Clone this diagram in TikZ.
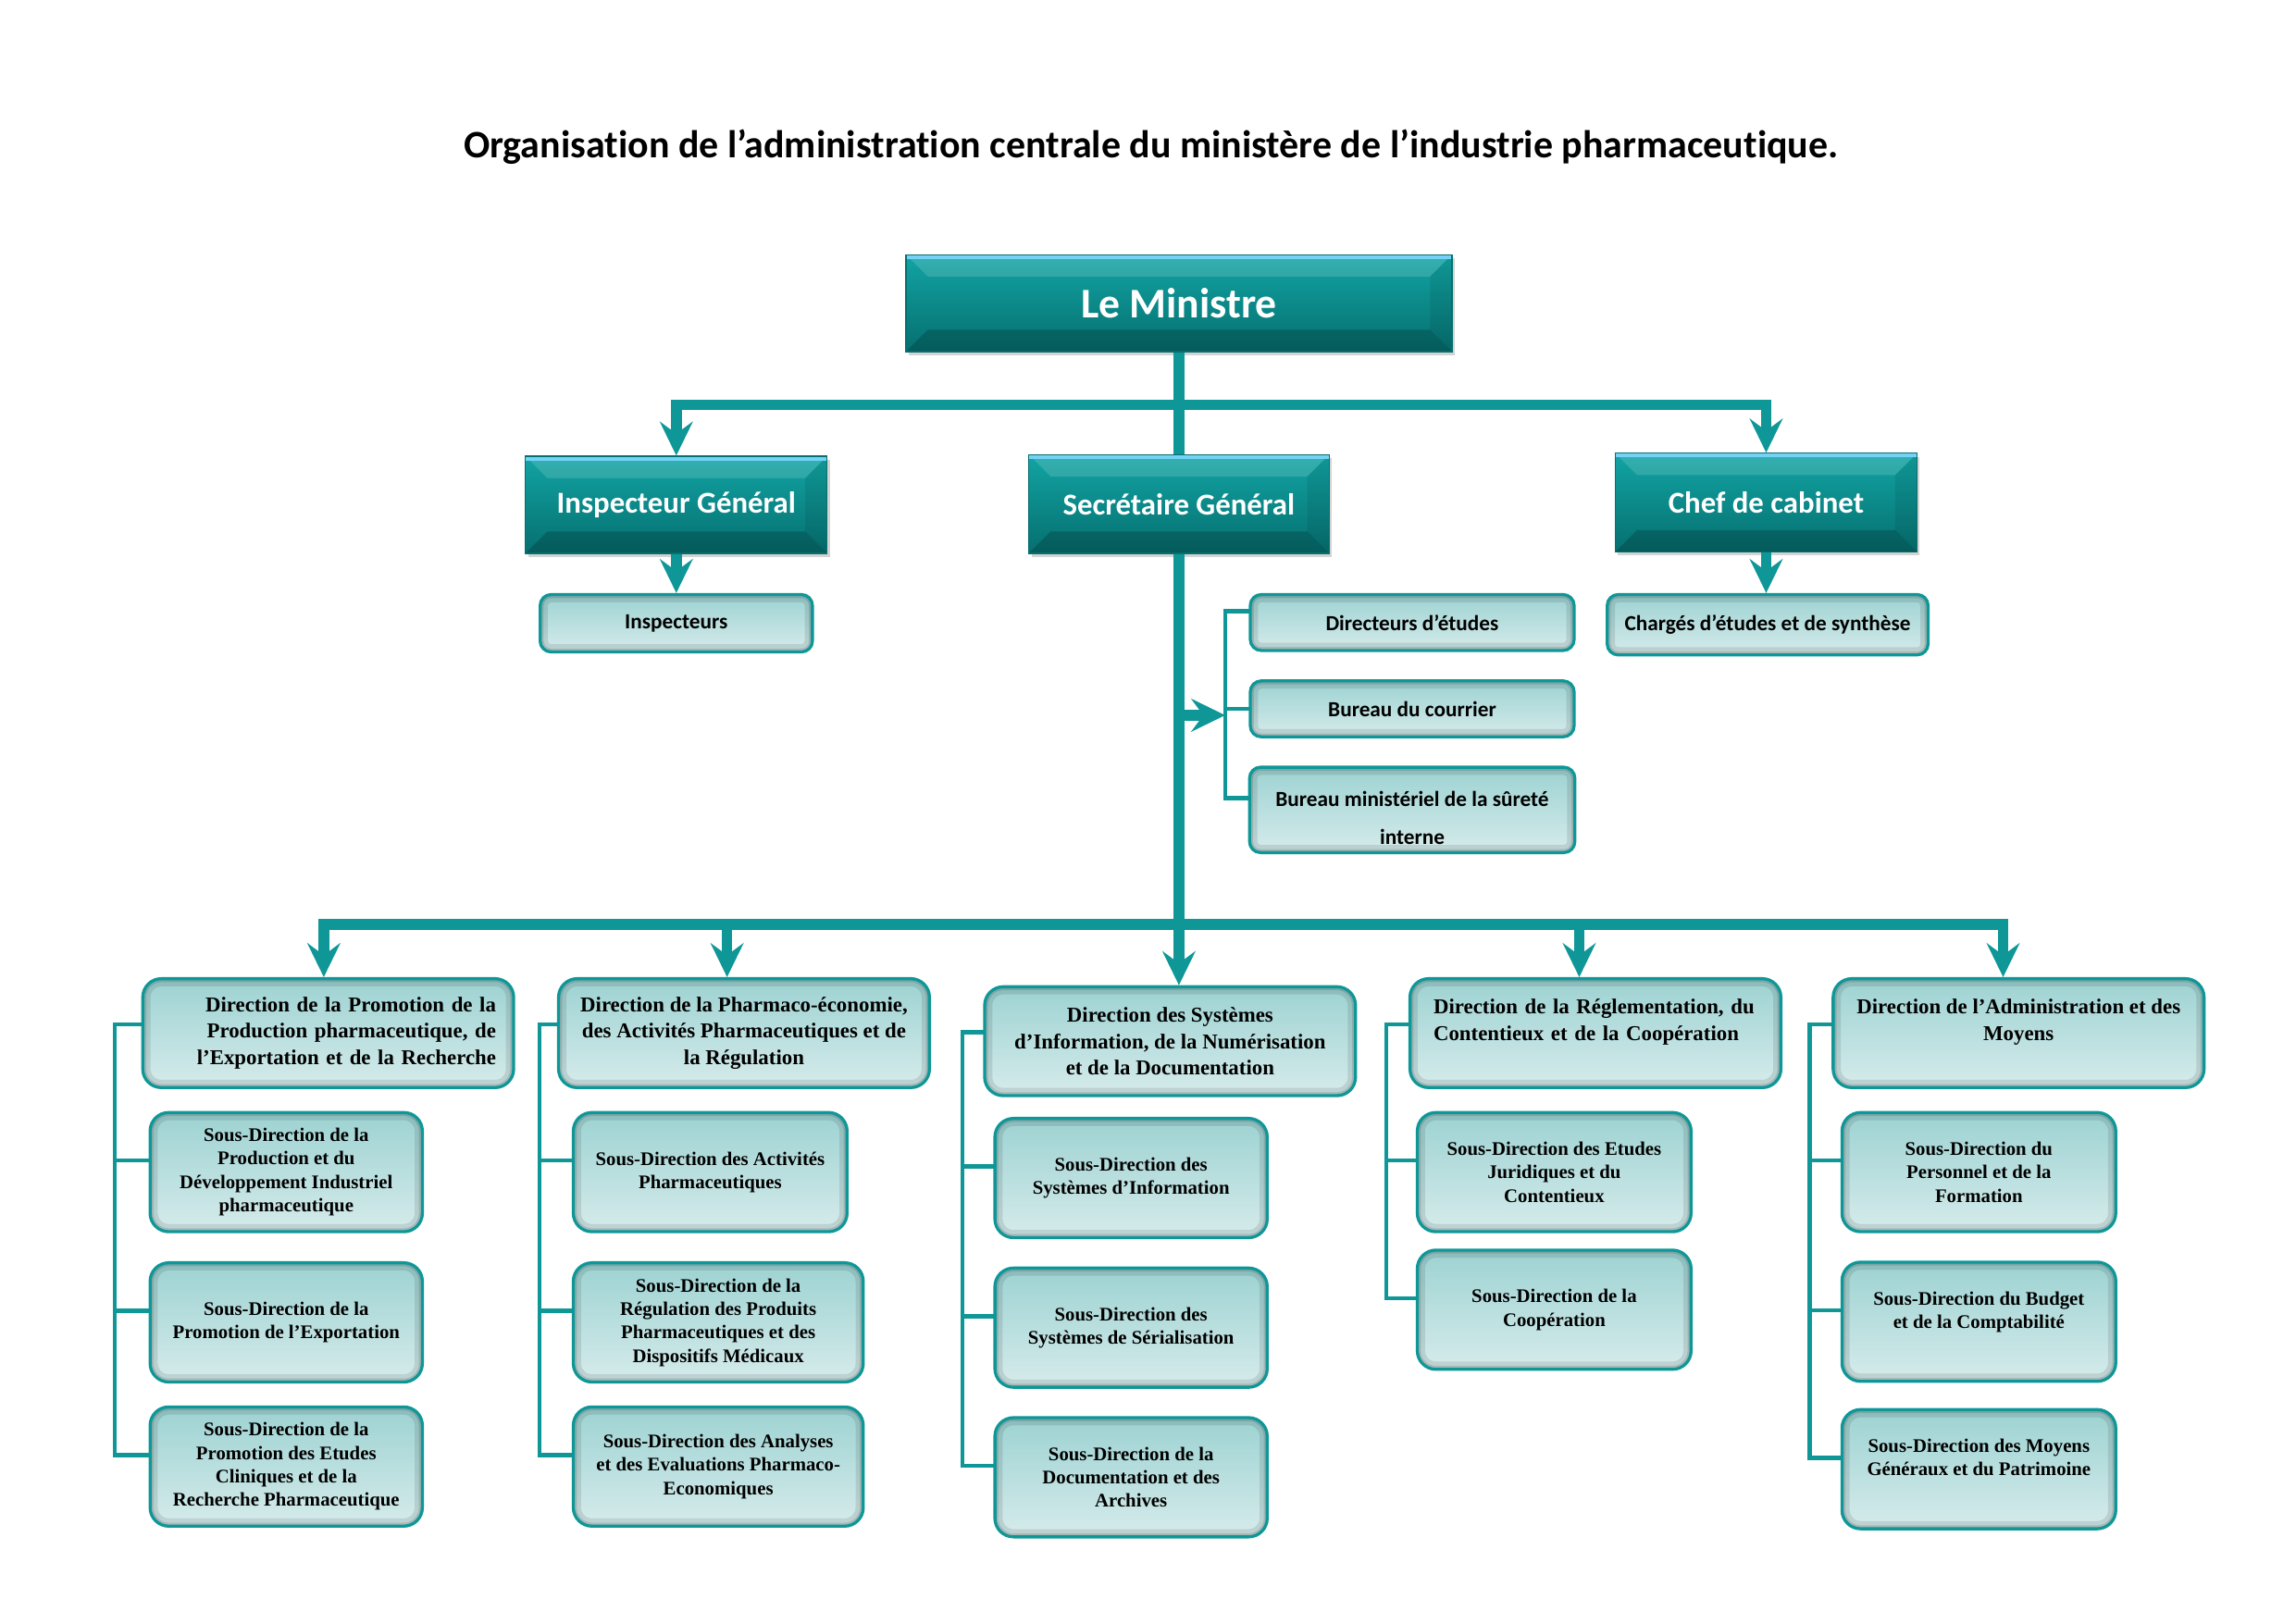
\documentclass[tikz,border=0pt]{standalone}
\usepackage{fontspec}
\setmainfont{Liberation Serif}
\newfontfamily\carlito[Ligatures=NoCommon]{Carlito}
\usetikzlibrary{positioning, arrows.meta, shadows}

\definecolor{tealline}{HTML}{0F9797}
\definecolor{tealtop}{HTML}{12A4A4}
\definecolor{tealbot}{HTML}{066F6F}
\definecolor{paletop}{HTML}{9DD2D2}
\definecolor{palebot}{HTML}{D6EBEB}

\def\pxu{0.013462cm}

\tikzset{
  >={Stealth[length=0.31cm, width=0.30cm, inset=0.11cm]},
  bar/.style={draw=tealline, line width=2.8pt},
  brk/.style={draw=tealline, line width=1.1pt, line cap=rect},
  headbox/.style={rectangle, draw=tealbot, line width=0.3pt,
    top color=tealtop, bottom color=tealbot, text=white, inner sep=1pt,
    font=\carlito\bfseries\fontsize{7.9}{9.5}\selectfont,
    drop shadow={shadow xshift=0.7pt, shadow yshift=-0.9pt, opacity=0.35},
    path picture={
      \path (path picture bounding box.north west) coordinate (hNW)
            (path picture bounding box.north east) coordinate (hNE)
            (path picture bounding box.south west) coordinate (hSW)
            (path picture bounding box.south east) coordinate (hSE);
      \fill[white, opacity=.14] (hNW) -- (hNE) -- ([shift={(-0.2cm,-0.2cm)}]hNE)
        -- ([shift={(0.2cm,-0.2cm)}]hNW) -- cycle;
      \fill[black, opacity=.18] (hSW) -- (hSE) -- ([shift={(-0.2cm,0.2cm)}]hSE)
        -- ([shift={(0.2cm,0.2cm)}]hSW) -- cycle;
      \fill[black, opacity=.08] (hNE) -- (hSE) -- ([shift={(-0.2cm,0.2cm)}]hSE)
        -- ([shift={(-0.2cm,-0.2cm)}]hNE) -- cycle;
      \fill[cyan!55!white] (hNW) rectangle ([yshift=-1.1pt]hNE);
    }},
  palebox/.style={rectangle, rounded corners=#1, draw=tealline, line width=0.8pt,
    top color=paletop, bottom color=palebot, text=black, align=center, inner sep=1pt,
    path picture={
      \draw[black, opacity=.10, line width=4pt, rounded corners=#1]
        (path picture bounding box.south west) rectangle (path picture bounding box.north east);
      \draw[black, opacity=.12, line width=1.8pt, rounded corners=#1]
        (path picture bounding box.south west) rectangle (path picture bounding box.north east);
    }},
  palebox/.default=0.17cm,
  smallbox/.style={palebox=0.1cm, font=\carlito\bfseries\fontsize{5.6}{6.8}\selectfont},
  dirbox/.style={palebox, minimum width=252*\pxu, minimum height=74*\pxu,
    font=\bfseries\fontsize{5.5}{6.9}\selectfont},
  sdbox/.style={palebox, minimum width=185*\pxu, minimum height=81*\pxu,
    font=\bfseries\fontsize{5}{6.1}\selectfont}
}

\begin{document}
\begin{tikzpicture}[x=\pxu, y=-\pxu, node distance=0.256cm]
\useasboundingbox (0,0) rectangle (1560,1103.5);

\node[font=\carlito\bfseries\fontsize{10.1}{12}\selectfont] (title) at (782,100)
  {Organisation de l’administration centrale du ministère de l’industrie pharmaceutique.};

% top of the chart
\node[headbox, minimum width=371*\pxu, minimum height=66*\pxu,
      font=\carlito\bfseries\fontsize{11}{13}\selectfont] (min) at (801,206) {Le Ministre};
\node[headbox, minimum width=205*\pxu, minimum height=66*\pxu] (ig) at (459.5,343) {Inspecteur Général};
\node[headbox, minimum width=204*\pxu, minimum height=67*\pxu] (sg) at (801,342.5) {Secrétaire Général};
\node[headbox, minimum width=205*\pxu, minimum height=67*\pxu] (cc) at (1200,341.5) {Chef de cabinet};

\node[smallbox, minimum width=185*\pxu, minimum height=39*\pxu] (insp) at (459.5,423.5) {Inspecteurs};
\node[smallbox, minimum width=218*\pxu, minimum height=41*\pxu] (chg) at (1201,424.5) {Chargés d’études et de synthèse};
\node[smallbox, minimum width=220*\pxu, minimum height=38*\pxu] (dir) at (959.5,423) {Directeurs d’études};
\node[smallbox, minimum width=220*\pxu, minimum height=38*\pxu, below=0.25cm of dir] (bur) {Bureau du courrier};
\node[smallbox, minimum width=221*\pxu, minimum height=58*\pxu, below=0.25cm of bur] (bms)
  {\rule{0pt}{8pt}Bureau ministériel de la sûreté\\[3pt]interne};

% directions
\node[dirbox, text width=228*\pxu, align=right] (d1) at (223,702)
  {Direction de la Promotion de la\\Production pharmaceutique, de\\l’Exportation et de la Recherche};
\node[dirbox] (d2) at (505.5,702)
  {Direction de la Pharmaco-économie,\\des Activités Pharmaceutiques et de\\la Régulation};
\node[dirbox] (d3) at (795,707.5)
  {Direction des Systèmes\\d’Information, de la Numérisation\\et de la Documentation};
\node[dirbox, text width=220*\pxu, align=left] (d4) at (1084,702)
  {Direction de la Réglementation, du\\Contentieux et de la Coopération\\~};
\node[dirbox] (d5) at (1371.5,702)
  {Direction de l’Administration et des\\Moyens\\~};

% sous-directions
\node[sdbox, below right=0.2cm and 0.067cm of d1.south west] (sd11)
  {Sous-Direction de la\\Production et du\\Développement Industriel\\pharmaceutique};
\node[sdbox, below=of sd11] (sd12) {Sous-Direction de la\\Promotion de l’Exportation};
\node[sdbox, below=0.2cm of sd12] (sd13)
  {Sous-Direction de la\\Promotion des Etudes\\Cliniques et de la\\Recherche Pharmaceutique};

\node[sdbox, minimum width=186*\pxu, below right=0.2cm and 0.135cm of d2.south west] (sd21)
  {Sous-Direction des Activités\\Pharmaceutiques};
\node[sdbox, minimum width=197*\pxu, below right=0.256cm and 0cm of sd21.south west] (sd22)
  {Sous-Direction de la\\Régulation des Produits\\Pharmaceutiques et des\\Dispositifs Médicaux};
\node[sdbox, minimum width=197*\pxu, below=0.2cm of sd22] (sd23)
  {Sous-Direction des Analyses\\et des Evaluations Pharmaco-\\Economiques};

\node[sdbox, below right=0.18cm and 0.094cm of d3.south west] (sd31)
  {Sous-Direction des\\Systèmes d’Information};
\node[sdbox, below=0.25cm of sd31] (sd32) {Sous-Direction des\\Systèmes de Sérialisation};
\node[sdbox, below=0.25cm of sd32] (sd33)
  {Sous-Direction de la\\Documentation et des\\Archives};

\node[sdbox, minimum width=186*\pxu, below right=0.2cm and 0.067cm of d4.south west] (sd41)
  {Sous-Direction des Etudes\\Juridiques et du\\Contentieux};
\node[sdbox, minimum width=186*\pxu, below=0.14cm of sd41] (sd42) {Sous-Direction de la\\Coopération};

\node[sdbox, minimum width=186*\pxu, below right=0.2cm and 0.081cm of d5.south west] (sd51)
  {Sous-Direction du\\Personnel et de la\\Formation};
\node[sdbox, minimum width=186*\pxu, below=0.25cm of sd51] (sd52)
  {Sous-Direction du Budget\\et de la Comptabilité\\~};
\node[sdbox, minimum width=186*\pxu, below=0.23cm of sd52] (sd53)
  {Sous-Direction des Moyens\\Généraux et du Patrimoine\\~};

% main connectors
\coordinate (ub1) at (459.5,275);
\coordinate (ub2) at (1200,275);
\draw[bar,<->] (ig.north) -- (ub1) -- (ub2) -- (cc.north);
\draw[bar] (min.south) -- (sg.north);
\draw[bar,->] (ig.south) -- (insp.north);
\draw[bar,->] (cc.south) -- (cc.south |- chg.north);
\draw[bar,->] (sg.south) -- (sg.south |- d3.north);

\draw[brk] ([yshift=3pt]dir.west) -- ++(-16,0) coordinate (k0);
\draw[brk] (k0) |- (bur.west);
\draw[brk] (k0) |- ([yshift=3pt]bms.west);
\coordinate (sa) at (801,486);
\draw[bar,->] (sa) -- (sa -| k0);

\coordinate (lb1) at (220,628);
\coordinate (lb2) at (494,628);
\coordinate (lb4) at (1073,628);
\coordinate (lb5) at (1361,628);
\draw[bar,<->] (lb1 |- d1.north) -- (lb1) -- (lb5) -- (lb5 |- d5.north);
\foreach \c/\d in {lb2/d2, lb4/d4}
  \draw[bar,->] (\c) -- (\c |- \d.north);

% brackets of the directions
\draw[brk] ([yshift=2.3pt]d1.west) -- ++(-18,0) coordinate (k1);
\foreach \s in {sd11,sd12,sd13} \draw[brk] (k1) |- ([yshift=3pt]\s.west);
\draw[brk] ([yshift=2.3pt]d2.west) -- ++(-12,0) coordinate (k2);
\foreach \s in {sd21,sd22,sd23} \draw[brk] (k2) |- ([yshift=3pt]\s.west);
\draw[brk] ([yshift=2.3pt]d3.west) -- ++(-14,0) coordinate (k3);
\foreach \s in {sd31,sd32,sd33} \draw[brk] (k3) |- ([yshift=3pt]\s.west);
\draw[brk] ([yshift=2.3pt]d4.west) -- ++(-15,0) coordinate (k4);
\foreach \s in {sd41,sd42} \draw[brk] (k4) |- ([yshift=3pt]\s.west);
\draw[brk] ([yshift=2.3pt]d5.west) -- ++(-15,0) coordinate (k5);
\foreach \s in {sd51,sd52,sd53} \draw[brk] (k5) |- ([yshift=3pt]\s.west);
\end{tikzpicture}
\end{document}
